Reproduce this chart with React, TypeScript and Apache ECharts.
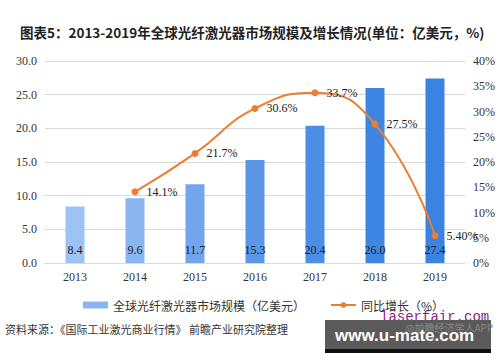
import React, { useEffect, useRef } from "react";
import * as echarts from "echarts";

const years = ["2013", "2014", "2015", "2016", "2017", "2018", "2019"];
const marketSize = [8.4, 9.6, 11.7, 15.3, 20.4, 26.0, 27.4];
const growth: (number | null)[] = [null, 14.1, 21.7, 30.6, 33.7, 27.5, 5.4];
const growthLabels = ["", "14.1%", "21.7%", "30.6%", "33.7%", "27.5%", "5.40%"];
const barColors = ["#9dc3f5", "#8ab6f0", "#72a5ec", "#5b96e7", "#4c8de5", "#3f86e2", "#3a83e1"];

const serif = "'Liberation Serif', 'Times New Roman', serif";
const sans = "'Noto Sans CJK SC', 'Noto Sans', sans-serif";

export default function App() {
  const ref = useRef<HTMLDivElement>(null);
  useEffect(() => {
    if (!ref.current) return;
    const chart = echarts.init(ref.current, null, { renderer: "svg" });
    chart.setOption({
      animation: false,
      backgroundColor: "#ffffff",
      grid: { left: 45, right: 35, top: 61, bottom: 99 },
      legend: {
        left: 78,
        top: 294,
        itemGap: 25,
        itemWidth: 25,
        itemHeight: 7,
        textStyle: { fontFamily: sans, fontSize: 12, color: "#333" },
        data: [
          { name: "全球光纤激光器市场规模（亿美元）", icon: "rect", itemStyle: { color: "#8ab6f0" } },
          { name: "同比增长（%）" },
        ],
      },
      xAxis: {
        type: "category",
        data: years,
        axisLine: { lineStyle: { color: "#d9d9d9" } },
        axisTick: { show: false },
        axisLabel: { fontFamily: serif, fontSize: 12, color: "#333", margin: 8 },
      },
      yAxis: [
        {
          type: "value",
          min: 0,
          max: 30,
          interval: 5,
          axisLine: { show: false },
          axisTick: { show: false },
          splitLine: { lineStyle: { color: "#d9d9d9" } },
          axisLabel: { fontFamily: serif, fontSize: 12, color: "#333", formatter: (v: number) => v.toFixed(1) },
        },
        {
          type: "value",
          min: 0,
          max: 40,
          interval: 5,
          axisLine: { show: false },
          axisTick: { show: false },
          splitLine: { show: false },
          axisLabel: { fontFamily: serif, fontSize: 12, color: "#333", formatter: "{value}%" },
        },
      ],
      series: [
        {
          name: "全球光纤激光器市场规模（亿美元）",
          type: "bar",
          barWidth: 19,
          data: marketSize.map((v, i) => ({ value: v, itemStyle: { color: barColors[i] } })),
          itemStyle: { color: "#8ab6f0" },
          label: {
            show: true,
            position: "insideBottom",
            distance: 7,
            fontFamily: serif,
            fontSize: 12,
            color: "#222",
            formatter: (p: any) => p.value.toFixed(1),
          },
        },
        {
          name: "同比增长（%）",
          type: "line",
          yAxisIndex: 1,
          smooth: true,
          symbol: "circle",
          symbolSize: 7,
          data: growth,
          lineStyle: { color: "#ed7d31", width: 2 },
          itemStyle: { color: "#ed7d31" },
          label: {
            show: true,
            position: "right",
            distance: 8,
            fontFamily: serif,
            fontSize: 12,
            color: "#222",
            formatter: (p: any) => growthLabels[p.dataIndex],
          },
        },
      ],
      graphic: [
        {
          type: "text",
          left: 20,
          top: 25,
          style: {
            text: "图表5：2013-2019年全球光纤激光器市场规模及增长情况(单位：亿美元，%)",
            fontFamily: sans,
            fontSize: 13.5,
            fontWeight: "bold",
            fill: "#222",
          },
        },
        {
          type: "text",
          left: 5,
          top: 323,
          style: {
            text: "资料来源：《国际工业激光商业行情》 前瞻产业研究院整理",
            fontFamily: sans,
            fontSize: 11,
            fill: "#333",
          },
        },
        {
          type: "text",
          x: 380,
          y: 310,
          style: { text: "laserfair.com", fontFamily: "'Liberation Mono', monospace", fontSize: 14, fill: "#8e2386" },
        },
        {
          type: "rect",
          shape: { x: 325, y: 320, width: 166, height: 29 },
          style: { fill: "#5a5a5a" },
        },
        {
          type: "rect",
          shape: { x: 325, y: 349, width: 166, height: 4 },
          style: { fill: "#111" },
        },
        {
          type: "text",
          x: 405,
          y: 322,
          style: { text: "@前瞻经济学人APP", fontFamily: sans, fontSize: 10, fill: "#888" },
        },
        {
          type: "text",
          x: 335,
          y: 327,
          style: { text: "www.u-mate.com", fontFamily: "'Liberation Sans', Arial, sans-serif", fontSize: 17, fontWeight: "bold", fill: "#ffffff" },
        },
      ],
    });
    return () => chart.dispose();
  }, []);
  return <div ref={ref} style={{ width: 500, height: 362, position: "absolute", left: 0, top: 0 }} />;
}
